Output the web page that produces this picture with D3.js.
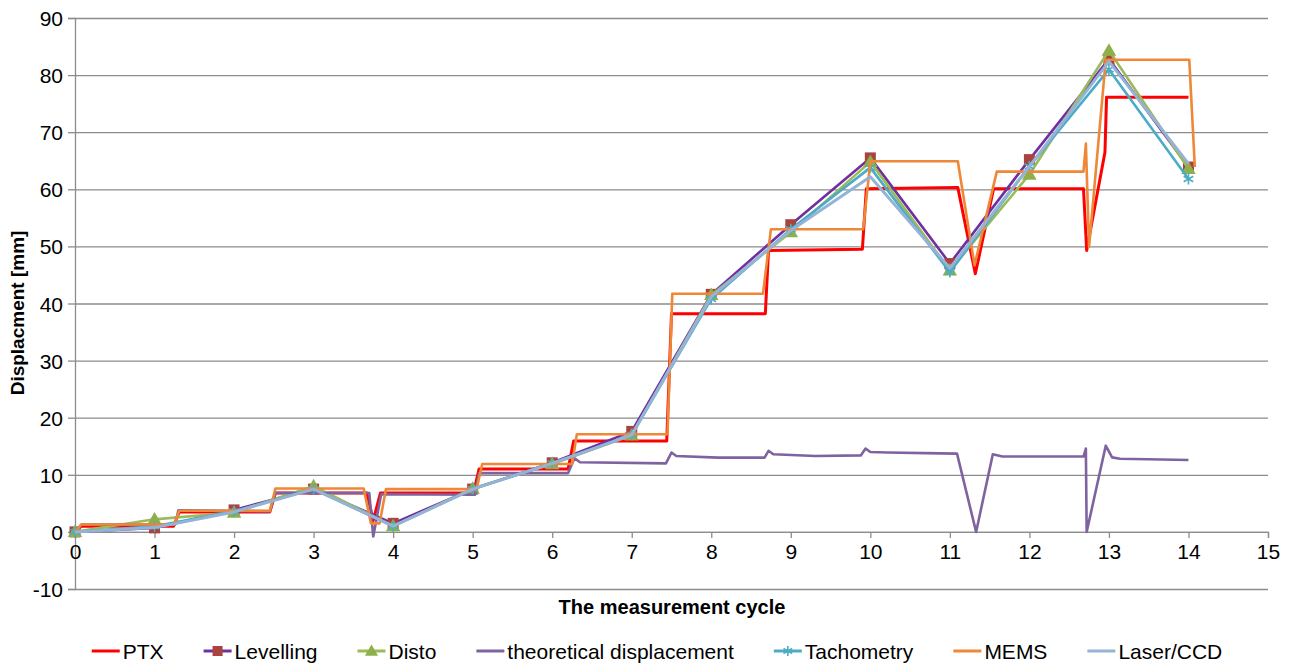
<!DOCTYPE html>
<html>
<head>
<meta charset="utf-8">
<script src="https://cdn.jsdelivr.net/npm/d3@7"></script>
<style>
  body { margin: 0; background: #fff; }
  svg text { font-family: "Liberation Sans", Arial, sans-serif; fill: #000; }
</style>
</head>
<body>
<div id="chart"></div>
<script>
// measurement cycles where the discrete methods were read
const cycles = [0, 1, 2, 3, 4, 5, 6, 7, 8, 9, 10, 11, 12, 13, 14];

const levelling  = [0, 0.7, 3.85, 7.5, 1.5, 7.5, 12.1, 17.6, 41.6, 53.8, 65.5, 47.0, 65.2, 82.8, 63.9];
const disto      = [0, 2.2, 3.4, 8.0, 1.0, 7.6, 11.9, 16.9, 41.5, 52.5, 64.8, 45.8, 62.6, 84.3, 63.6];
const tachometry = [0, 1.0, 3.6, 7.5, 1.0, 7.5, 12.0, 17.0, 40.8, 53.0, 63.8, 45.5, 64.0, 81.0, 61.8];
const laserCCD   = [0, 0.75, 3.5, 7.5, 1.0, 7.5, 12.0, 17.0, 41.2, 52.8, 62.2, 46.2, 64.0, 82.4, 64.5];

// continuous recordings (x = cycle, y = displacement)
const ptxX = [0, 0.08, 1.24, 1.31, 2.45, 2.52, 3.67, 3.75, 3.84, 5.01, 5.08, 6.2, 6.27, 7.44, 7.5, 8.68, 8.72,
  9.9, 9.95, 11.1, 11.32, 11.55, 12.68, 12.72, 12.95, 12.97, 14.0];
const ptxY = [0, 1.0, 1.0, 3.5, 3.5, 6.8, 6.8, 2.0, 6.8, 6.8, 11.0, 11.0, 15.9, 15.9, 38.2, 38.2, 49.3,
  49.5, 60.1, 60.3, 45.2, 60.1, 60.1, 49.3, 66.5, 76.1, 76.1];

const memsX = [0, 0.08, 1.25, 1.31, 2.45, 2.52, 3.63, 3.72, 3.83, 3.91, 5.05, 5.12, 6.25, 6.31, 7.45, 7.51,
  8.65, 8.75, 9.91, 10.0, 11.1, 11.31, 11.59, 12.68, 12.71, 12.75, 12.96, 14.01, 14.08];
const memsY = [0, 1.3, 1.3, 3.7, 3.7, 7.6, 7.6, 1.5, 1.5, 7.5, 7.5, 11.9, 11.9, 17.1, 17.1, 41.7,
  41.7, 53.0, 53.0, 64.9, 64.9, 46.7, 63.1, 63.1, 68.0, 49.9, 82.7, 82.7, 63.9];

const theoX = [0, 0.08, 1.26, 1.3, 2.45, 2.52, 3.7, 3.75, 3.85, 5.03, 5.08, 6.2, 6.28, 6.35, 7.43, 7.5, 7.56,
  8.09, 8.67, 8.72, 8.78, 9.31, 9.88, 9.94, 10.0, 10.21, 10.88, 11.09, 11.33, 11.54, 11.66, 12.68, 12.71,
  12.72, 12.96, 13.04, 13.14, 14.0];
const theoY = [0, 1.3, 1.3, 3.8, 3.6, 6.8, 6.8, -0.8, 6.6, 6.5, 10.3, 10.3, 12.9, 12.2, 12.0, 13.9, 13.3,
  13.0, 13.0, 14.2, 13.6, 13.3, 13.4, 14.6, 14.0, 13.9, 13.75, 13.7, 0, 13.6, 13.2, 13.2, 14.6,
  0, 15.1, 13.05, 12.8, 12.6];

const xTicks = d3.range(0, 16);
const yTicks = d3.range(-10, 91, 10);

const cfg = {
    width: 1290,
    height: 667,
    left: 75, right: 1268, top: 18, bottom: 589
};

const svg = d3.select("#chart").append("svg")
    .attr("width", cfg.width)
    .attr("height", cfg.height);

const x = d3.scaleLinear().domain([0, 15]).range([cfg.left, cfg.right]);
const y = d3.scaleLinear().domain([-10, 90]).range([cfg.bottom, cfg.top]);

const gridColor = "#8c8c8c";

// horizontal gridlines
svg.append("g")
    .attr("transform", "translate(" + cfg.left + ",0)")
    .call(d3.axisLeft(y).tickValues(yTicks).tickSize(-(cfg.right - cfg.left)).tickFormat(""))
    .call(g => g.select(".domain").remove())
    .call(g => g.selectAll("line").attr("stroke", gridColor).attr("stroke-width", 1.3));

// y axis (plain hyphen for negatives, like the original)
svg.append("g")
    .attr("transform", "translate(" + cfg.left + ",0)")
    .call(d3.axisLeft(y).tickValues(yTicks).tickSize(7).tickPadding(5).tickFormat(d => String(d)))
    .call(g => g.select(".domain").attr("stroke", gridColor).attr("stroke-width", 1.3))
    .call(g => g.selectAll("line").attr("stroke", gridColor).attr("stroke-width", 1.3))
    .call(g => g.selectAll("text").style("font-size", "21px").attr("dy", "0.36em"));

// x axis sits on zero
svg.append("g")
    .attr("transform", "translate(0," + y(0) + ")")
    .call(d3.axisBottom(x).tickValues(xTicks).tickSize(6).tickPadding(6))
    .call(g => g.select(".domain").attr("stroke", gridColor).attr("stroke-width", 1.3))
    .call(g => g.selectAll("line").attr("stroke", gridColor).attr("stroke-width", 1.3))
    .call(g => g.selectAll("text").style("font-size", "21px"));

// axis titles
svg.append("text")
    .attr("x", 672).attr("y", 614)
    .attr("text-anchor", "middle")
    .style("font-size", "20px").style("font-weight", "bold")
    .text("The measurement cycle");

svg.append("text")
    .attr("transform", "translate(24,313) rotate(-90)")
    .attr("text-anchor", "middle")
    .style("font-size", "19px").style("font-weight", "bold")
    .text("Displacment [mm]");

const line = d3.line().x(d => x(d[0])).y(d => y(d[1]));

const starPath = (r) => {
    const a = r * 0.87, b = r * 0.5;
    return "M0," + (-r) + "V" + r +
        "M" + (-a) + "," + (-b) + "L" + a + "," + b +
        "M" + (-a) + "," + b + "L" + a + "," + (-b);
};

const series = [
    { name: "PTX", color: "#ff0000", width: 3, pts: d3.zip(ptxX, ptxY) },
    { name: "Levelling", color: "#7030a0", width: 2.6, pts: d3.zip(cycles, levelling), marker: "square", mcolor: "#a8433f" },
    { name: "Disto", color: "#9bbb59", width: 2.6, pts: d3.zip(cycles, disto), marker: "triangle", mcolor: "#8db04b" },
    { name: "theoretical displacement", color: "#7f63a1", width: 2.6, pts: d3.zip(theoX, theoY) },
    { name: "Tachometry", color: "#4bacc6", width: 2.6, pts: d3.zip(cycles, tachometry), marker: "star", mcolor: "#4bacc6" },
    { name: "MEMS", color: "#ee8838", width: 2.6, pts: d3.zip(memsX, memsY) },
    { name: "Laser/CCD", color: "#95b3d7", width: 3, pts: d3.zip(cycles, laserCCD) }
];

function drawMarker(g, type, color, cx, cy, s) {
    if (type === "square") {
        g.append("rect").attr("x", cx - s / 2).attr("y", cy - s / 2)
            .attr("width", s).attr("height", s).attr("fill", color);
    } else if (type === "triangle") {
        g.append("path").attr("transform", "translate(" + cx + "," + (cy + 1) + ")")
            .attr("d", d3.symbol(d3.symbolTriangle, s * s * 0.75)()).attr("fill", color);
    } else if (type === "star") {
        g.append("path").attr("transform", "translate(" + cx + "," + cy + ")")
            .attr("d", starPath(s / 2)).attr("stroke", color).attr("stroke-width", 1.6).attr("fill", "none");
    }
}

series.forEach(s => {
    const g = svg.append("g");
    g.append("path")
        .datum(s.pts)
        .attr("fill", "none")
        .attr("stroke", s.color)
        .attr("stroke-width", s.width)
        .attr("stroke-linejoin", "round")
        .attr("d", line);
    if (s.marker) {
        s.pts.forEach(p => drawMarker(g, s.marker, s.mcolor, x(p[0]), y(p[1]), 11));
    }
});

// legend
const legend = svg.append("g");
const fs = 21, sym = 28, gap = 40;
const items = series.map(s => {
    const t = legend.append("text").style("font-size", fs + "px").text(s.name);
    const w = t.node().getComputedTextLength();
    return { s, t, w };
});
const total = d3.sum(items, d => sym + 3 + d.w) + gap * (items.length - 1);
let lx = 657 - total / 2;
const ly = 651;
items.forEach(d => {
    legend.append("line")
        .attr("x1", lx).attr("x2", lx + sym)
        .attr("y1", ly).attr("y2", ly)
        .attr("stroke", d.s.color).attr("stroke-width", 3);
    if (d.s.marker) drawMarker(legend, d.s.marker, d.s.mcolor, lx + sym / 2, ly, 10);
    d.t.attr("x", lx + sym + 3).attr("y", ly).attr("dy", "0.36em");
    lx += sym + 3 + d.w + gap;
});
</script>
</body>
</html>
